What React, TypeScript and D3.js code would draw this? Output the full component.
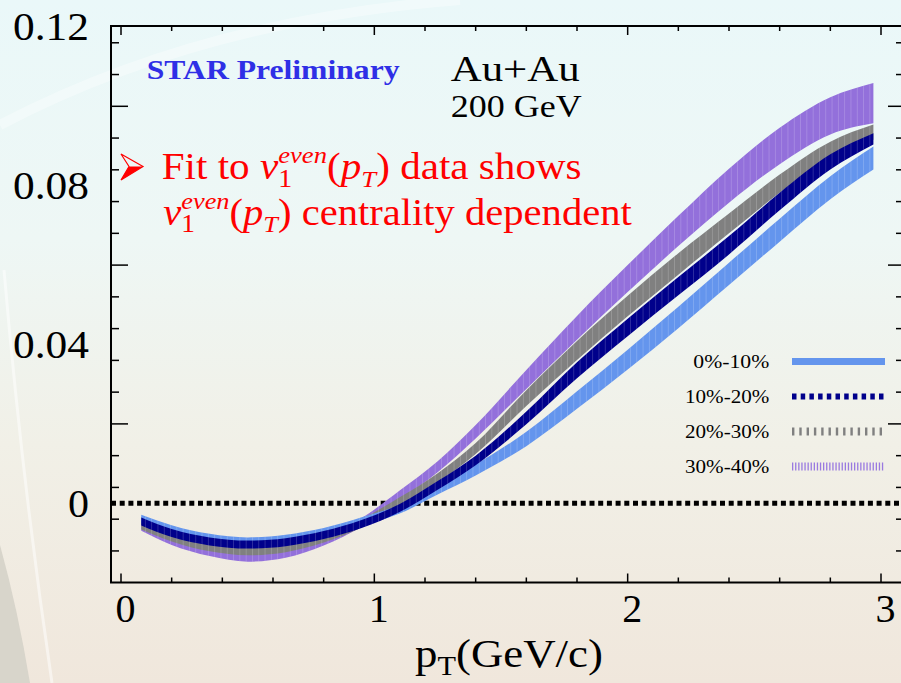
import { useRef, useEffect } from 'react';
import * as d3 from 'd3';

// pT grid (GeV/c) for the fitted bands
const ptGrid = [0.08, 0.2, 0.35, 0.5, 0.65, 0.8, 0.95, 1.1, 1.25, 1.4, 1.6, 1.8, 2.0, 2.2, 2.4, 2.6, 2.8, 2.97];

// band centres and half widths, per centrality
const v1c0010 = [-0.0040, -0.0066, -0.0088, -0.0097, -0.0090, -0.0073, -0.0046, -0.0015, 0.0034, 0.0084, 0.0162, 0.0260, 0.0362, 0.0468, 0.0578, 0.0688, 0.0795, 0.0870];
const err0010 = [0.0011, 0.0011, 0.0011, 0.0011, 0.0011, 0.0011, 0.0011, 0.0011, 0.0012, 0.0014, 0.0018, 0.0022, 0.0025, 0.0027, 0.0028, 0.0029, 0.0029, 0.0029];

const v1c1020 = [-0.0046, -0.0075, -0.0096, -0.0104, -0.0098, -0.0080, -0.0052, -0.0012, 0.0045, 0.0108, 0.0215, 0.0335, 0.0443, 0.0547, 0.0650, 0.0760, 0.0860, 0.0918];
const err1020 = [0.0010, 0.0010, 0.0010, 0.0010, 0.0010, 0.0010, 0.0010, 0.0010, 0.0011, 0.0012, 0.0016, 0.0020, 0.0022, 0.0023, 0.0023, 0.0022, 0.0019, 0.0014];

const v1c2030 = [-0.0055, -0.0085, -0.0110, -0.0120, -0.0112, -0.0088, -0.0050, 0.0004, 0.0064, 0.0138, 0.0265, 0.0385, 0.0497, 0.0603, 0.0705, 0.0805, 0.0890, 0.0935];
const err2030 = [0.0011, 0.0011, 0.0011, 0.0011, 0.0011, 0.0011, 0.0011, 0.0011, 0.0012, 0.0014, 0.0020, 0.0024, 0.0026, 0.0027, 0.0025, 0.0023, 0.0021, 0.0019];

const v1c3040 = [-0.0058, -0.0094, -0.0122, -0.0136, -0.0126, -0.0095, -0.0048, 0.0020, 0.0092, 0.0180, 0.0312, 0.0442, 0.0566, 0.0686, 0.0800, 0.0900, 0.0976, 0.1008];
const err3040 = [0.0011, 0.0011, 0.0011, 0.0011, 0.0011, 0.0011, 0.0011, 0.0012, 0.0014, 0.0017, 0.0024, 0.0030, 0.0034, 0.0038, 0.0043, 0.0046, 0.0047, 0.0051];

const centralityLabels = ['0%-10%', '10%-20%', '20%-30%', '30%-40%'];
const yTickValues = [0, 0.04, 0.08, 0.12];
const yTickLabels = ['0', '0.04', '0.08', '0.12'];
const xTickValues = [0, 1, 2, 3];
const xTickLabels = ['0', '1', '2', '3'];

const W = 901;
const H = 683;
const SERIF = 'Liberation Serif, Times New Roman, Times, serif';

type Seg = { t: string; italic?: boolean; bold?: boolean; size?: number; shift?: number; under?: Seg };

// lays text pieces side by side, then stretches the line to the width
function richText(parent: any, x: number, y: number, segs: Seg[], size: number, fill: string, targetW?: number, anchor = 'start') {
  const g = parent.append('g');
  const inner = g.append('g');
  let cx = 0;
  const put = (s: Seg, at: number) => {
    const t = inner.append('text')
      .attr('x', at)
      .attr('y', s.shift ?? 0)
      .style('font-family', SERIF)
      .style('font-size', `${s.size ?? size}px`)
      .style('font-style', s.italic ? 'italic' : 'normal')
      .style('font-weight', s.bold ? 'bold' : 'normal')
      .style('white-space', 'pre')
      .attr('fill', fill)
      .text(s.t);
    return (t.node() as SVGTextElement).getComputedTextLength();
  };
  segs.forEach(s => {
    let w = put(s, cx);
    if (s.under) w = Math.max(w, put(s.under, cx));
    cx += w;
  });
  const sx = targetW ? targetW / cx : 1;
  const dx = anchor === 'end' ? -cx * sx : anchor === 'middle' ? -cx * sx / 2 : 0;
  g.attr('transform', `translate(${x + dx},${y}) scale(${sx},1)`);
}

const App = () => {
  const svgRef = useRef<SVGSVGElement>(null);

  useEffect(() => {
    const svg = d3.select(svgRef.current);
    svg.selectAll('*').remove();

    const left = 111, right = 904, top = 26, bottom = 582.5;
    const x = d3.scaleLinear().domain([0, 3]).range([121, 881]);
    const y = d3.scaleLinear().domain([-0.02, 0.12]).range([582.7, 26.9]);

    const defs = svg.append('defs');
    const bg = defs.append('linearGradient').attr('id', 'bg').attr('x1', 0).attr('y1', 0).attr('x2', 0).attr('y2', 1);
    [['0%', '#eaf8f9'], ['35%', '#eef7f5'], ['65%', '#f1f0e7'], ['100%', '#f0e7dc']]
      .forEach(([o, c]) => bg.append('stop').attr('offset', o).attr('stop-color', c));
    const hatch = defs.append('pattern').attr('id', 'hatch').attr('patternUnits', 'userSpaceOnUse')
      .attr('width', 6.3).attr('height', 10);
    hatch.append('rect').attr('x', 0).attr('y', 0).attr('width', 0.8).attr('height', 10)
      .attr('fill', '#ffffff').attr('opacity', 0.2);
    defs.append('clipPath').attr('id', 'frame').append('rect')
      .attr('x', left).attr('y', top).attr('width', right - left).attr('height', bottom - top);

    // background
    svg.append('rect').attr('width', W).attr('height', H).attr('fill', 'url(#bg)');
    svg.append('path').attr('d', 'M0,125 Q200,20 460,0').attr('fill', 'none')
      .attr('stroke', '#ffffff').attr('stroke-width', 10).attr('opacity', 0.35);
    svg.append('path').attr('d', 'M0,545 Q18,610 30,683 L0,683 Z').attr('fill', '#d8d5cb');
    svg.append('path').attr('d', 'M4,270 Q22,480 52,683').attr('fill', 'none')
      .attr('stroke', '#ffffff').attr('stroke-width', 3).attr('opacity', 0.5);

    const plot = svg.append('g').attr('clip-path', 'url(#frame)');

    // zero line
    plot.append('line')
      .attr('x1', left).attr('x2', right).attr('y1', y(0)).attr('y2', y(0))
      .attr('stroke', '#000').attr('stroke-width', 5).attr('stroke-dasharray', '5 3.7');

    const series = [
      { c: v1c3040, e: err3040, color: '#9370db' },
      { c: v1c2030, e: err2030, color: '#808080' },
      { c: v1c0010, e: err0010, color: '#6495ed' },
      { c: v1c1020, e: err1020, color: '#00008b' },
    ];
    const area = d3.area<[number, number, number]>()
      .x(d => x(d[0]))
      .y0(d => y(d[1] - d[2]))
      .y1(d => y(d[1] + d[2]))
      .curve(d3.curveMonotoneX);
    series.forEach(s => {
      const pts = ptGrid.map((p, i) => [p, s.c[i], s.e[i]] as [number, number, number]);
      plot.append('path').attr('d', area(pts)).attr('fill', s.color);
      plot.append('path').attr('d', area(pts)).attr('fill', 'url(#hatch)');
    });

    // frame
    svg.append('rect').attr('x', left).attr('y', top).attr('width', right - left).attr('height', bottom - top)
      .attr('fill', 'none').attr('stroke', '#000').attr('stroke-width', 2);

    const ticks = svg.append('g').attr('stroke', '#000').attr('stroke-width', 1.5);
    d3.range(1, 18).forEach(i => {
      const v = -0.02 + i * 0.008;
      const major = i % 5 === 0;
      const py = y(v);
      ticks.append('line').attr('x1', left).attr('x2', left + (major ? 17 : 8)).attr('y1', py).attr('y2', py);
      ticks.append('line').attr('x1', right).attr('x2', right - (major ? 16 : 8)).attr('y1', py).attr('y2', py);
    });
    d3.range(0, 16).forEach(i => {
      const v = i * 0.2;
      const major = i % 5 === 0;
      const px = x(v);
      ticks.append('line').attr('x1', px).attr('x2', px).attr('y1', bottom).attr('y2', bottom - (major ? 9 : 5));
      ticks.append('line').attr('x1', px).attr('x2', px).attr('y1', top).attr('y2', top + (major ? 9 : 5));
    });

    // tick labels
    yTickValues.forEach((v, i) => {
      richText(svg, 89, y(v) + 13.5, [{ t: yTickLabels[i] }], 40, '#000', yTickLabels[i].length > 1 ? 76 : 21, 'end');
    });
    xTickValues.forEach((v, i) => {
      richText(svg, x(v) + 4.5, 621.5, [{ t: xTickLabels[i] }], 40, '#000', undefined, 'middle');
    });

    // axis title
    richText(svg, 415, 667, [
      { t: 'p' },
      { t: 'T', size: 27, shift: 8 },
      { t: '(GeV/c)' },
    ], 40, '#000', 188);

    // annotations
    richText(svg, 146.7, 79.3, [{ t: 'STAR Preliminary', bold: true }], 27, '#2f2fe6', 253);
    richText(svg, 450.7, 80.7, [{ t: 'Au+Au' }], 36, '#000', 129);
    richText(svg, 450.7, 117.3, [{ t: '200 GeV' }], 32, '#000', 131);

    const v1Segs: Seg[] = [
      { t: 'v', italic: true },
      { t: 'even', italic: true, size: 24, shift: -16, under: { t: '1', size: 25, shift: 7.5 } },
      { t: '(' },
      { t: 'p', italic: true },
      { t: 'T', italic: true, size: 24, shift: 7.5 },
      { t: ')' },
    ];
    richText(svg, 161.7, 179.3, [{ t: 'Fit to ' }, ...v1Segs, { t: ' data shows' }], 37, '#ff0000', 420);
    richText(svg, 163.3, 224.5, [...v1Segs, { t: ' centrality dependent' }], 37, '#ff0000', 468.5);

    // arrow bullet
    svg.append('polygon').attr('points', '121,154 143,166.5 121,180 129,166.5')
      .attr('fill', 'none').attr('stroke', '#ff0000').attr('stroke-width', 1.2);
    svg.append('polygon').attr('points', '129,166.5 143,166.5 121,180').attr('fill', '#ff0000');

    // legend
    const legendStyles = [
      { color: '#6495ed', width: 7, dash: null },
      { color: '#00008b', width: 6, dash: '4.5 4.2' },
      { color: '#808080', width: 8, dash: '2.4 4.9' },
      { color: '#9a7ae0', width: 8, dash: '1.3 1.8' },
    ];
    centralityLabels.forEach((lab, i) => {
      const by = 368.3 + i * 35;
      richText(svg, 769.3, by, [{ t: lab }], 18, '#000', lab.length > 6 ? 84.3 : 76, 'end');
      const ln = svg.append('line')
        .attr('x1', 792).attr('x2', 885).attr('y1', by - 6.8).attr('y2', by - 6.8)
        .attr('stroke', legendStyles[i].color).attr('stroke-width', legendStyles[i].width);
      if (legendStyles[i].dash) ln.attr('stroke-dasharray', legendStyles[i].dash);
    });
  }, []);

  return (
    <svg ref={svgRef} width={W} height={H} style={{ position: 'absolute', left: 0, top: 0, display: 'block' }} />
  );
};

export default App;
